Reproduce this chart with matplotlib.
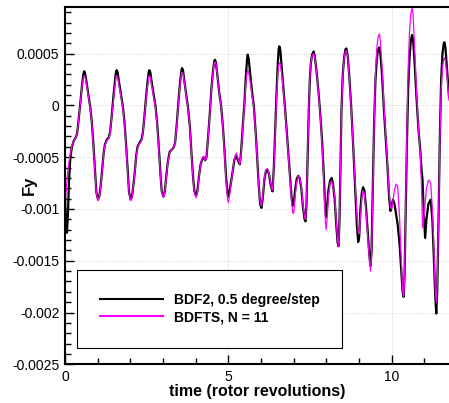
import matplotlib
matplotlib.use("Agg")
import matplotlib.pyplot as plt
from matplotlib.ticker import MultipleLocator, FixedLocator, FixedFormatter

plt.rcParams['font.family'] = ['Liberation Sans', 'DejaVu Sans']
plt.rcParams['axes.unicode_minus'] = False

# time (rotor revolutions), shared by both runs
t_rev = [
    0.00, 0.03, 0.06, 0.09, 0.12, 0.16, 0.21, 0.27, 0.33, 0.37, 0.42, 0.47,
    0.52, 0.56, 0.59, 0.62, 0.67, 0.72, 0.77, 0.82, 0.87, 0.92, 0.96, 1.01,
    1.05, 1.09, 1.13, 1.18, 1.22, 1.28, 1.34, 1.38, 1.43, 1.48, 1.53, 1.56,
    1.58, 1.61, 1.66, 1.72, 1.77, 1.82, 1.87, 1.92, 1.96, 2.01,
    2.05, 2.09, 2.13, 2.18, 2.22, 2.28, 2.34, 2.38, 2.43, 2.48, 2.53, 2.56,
    2.58, 2.61, 2.66, 2.72, 2.77, 2.82, 2.87, 2.92, 2.96, 3.01,
    3.05, 3.09, 3.14, 3.20, 3.26, 3.32, 3.37, 3.42, 3.47, 3.52, 3.56, 3.58,
    3.61, 3.66, 3.71, 3.76, 3.82, 3.87, 3.92, 3.96, 4.01,
    4.05, 4.10, 4.15, 4.20, 4.24, 4.29, 4.33, 4.38, 4.43, 4.48, 4.53, 4.57,
    4.59, 4.62, 4.67, 4.72, 4.78, 4.83, 4.88, 4.93, 4.97, 5.00,
    5.04, 5.09, 5.13, 5.18, 5.24, 5.30, 5.35, 5.39, 5.44, 5.49, 5.53, 5.57,
    5.59, 5.62, 5.67, 5.72, 5.78, 5.83, 5.88, 5.93, 5.97, 6.01,
    6.05, 6.10, 6.15, 6.19, 6.24, 6.30, 6.35, 6.39, 6.43, 6.47, 6.51, 6.54,
    6.56, 6.59, 6.64, 6.70, 6.76, 6.82, 6.88, 6.93, 6.97, 7.00,
    7.04, 7.09, 7.14, 7.18, 7.23, 7.28, 7.33, 7.36, 7.39, 7.43, 7.46, 7.49,
    7.52, 7.56, 7.61, 7.64, 7.70, 7.76, 7.82, 7.87, 7.92, 7.96, 7.99,
    8.02, 8.06, 8.11, 8.16, 8.20, 8.25, 8.30, 8.34, 8.37, 8.40, 8.43, 8.46,
    8.50, 8.54, 8.58, 8.61, 8.65, 8.70, 8.76, 8.82, 8.88, 8.93, 8.97, 9.00,
    9.04, 9.08, 9.12, 9.16, 9.21, 9.26, 9.31, 9.35, 9.38, 9.42, 9.46, 9.50,
    9.54, 9.58, 9.62, 9.65, 9.70, 9.76, 9.82, 9.87, 9.92, 9.96,
    10.00, 10.04, 10.08, 10.13, 10.18, 10.24, 10.29, 10.33, 10.36, 10.39,
    10.42, 10.46, 10.50, 10.54, 10.58, 10.62, 10.65, 10.70, 10.76, 10.82,
    10.87, 10.91, 10.94, 10.98, 11.02,
    11.06, 11.12, 11.19, 11.24, 11.29, 11.33, 11.36, 11.39, 11.43, 11.47,
    11.51, 11.55, 11.59, 11.61, 11.64, 11.69, 11.75,
]

# BDF2, 0.5 degree/step
fy_bdf2 = [
    -0.00088, -0.00115, -0.00123, -0.00105, -0.00075, -0.00052, -0.00040, -0.00034,
    -0.00031, -0.00027, -0.00013, 0.00003, 0.00019, 0.00030, 0.00033, 0.00030,
    0.00020, 0.00009, -0.00001, -0.00016, -0.00038, -0.00064, -0.00084, -0.00091,
    -0.00088, -0.00078, -0.00065, -0.00047, -0.00038, -0.00033, -0.00031, -0.00026,
    -0.00010, 0.00008, 0.00024, 0.00032, 0.00034, 0.00032, 0.00021, 0.00009,
    -0.00001, -0.00016, -0.00038, -0.00064, -0.00084, -0.00091,
    -0.00088, -0.00078, -0.00066, -0.00048, -0.00040, -0.00036, -0.00033, -0.00027,
    -0.00011, 0.00008, 0.00024, 0.00032, 0.00034, 0.00032, 0.00021, 0.00009,
    -0.00001, -0.00017, -0.00040, -0.00066, -0.00083, -0.00088,
    -0.00084, -0.00072, -0.00056, -0.00045, -0.00043, -0.00041, -0.00036, -0.00018,
    0.00003, 0.00022, 0.00033, 0.00036, 0.00034, 0.00022, 0.00010, -0.00001,
    -0.00020, -0.00046, -0.00070, -0.00083, -0.00087,
    -0.00083, -0.00068, -0.00057, -0.00052, -0.00050, -0.00053, -0.00050, -0.00030,
    -0.00008, 0.00016, 0.00034, 0.00043, 0.00044, 0.00041, 0.00027, 0.00012,
    -0.00001, -0.00020, -0.00043, -0.00070, -0.00084, -0.00088,
    -0.00082, -0.00072, -0.00064, -0.00053, -0.00048, -0.00054, -0.00057, -0.00044,
    -0.00020, 0.00002, 0.00026, 0.00044, 0.00049, 0.00045, 0.00030, 0.00014,
    -0.00001, -0.00024, -0.00050, -0.00078, -0.00095, -0.00099,
    -0.00090, -0.00072, -0.00063, -0.00062, -0.00066, -0.00078, -0.00083, -0.00060,
    -0.00025, 0.00010, 0.00040, 0.00055, 0.00057, 0.00053, 0.00034, 0.00010,
    -0.00014, -0.00040, -0.00066, -0.00088, -0.00097, -0.00095,
    -0.00082, -0.00071, -0.00068, -0.00070, -0.00080, -0.00098, -0.00110, -0.00112,
    -0.00095, -0.00045, -0.00004, 0.00024, 0.00040, 0.00049, 0.00052, 0.00048,
    0.00032, 0.00012, -0.00012, -0.00036, -0.00068, -0.00097, -0.00108,
    -0.00098, -0.00082, -0.00073, -0.00070, -0.00076, -0.00090, -0.00115, -0.00132,
    -0.00136, -0.00110, -0.00058, -0.00004, 0.00030, 0.00046, 0.00054, 0.00055,
    0.00048, 0.00028, -0.00003, -0.00040, -0.00082, -0.00115, -0.00132, -0.00128,
    -0.00100, -0.00085, -0.00079, -0.00082, -0.00098, -0.00120, -0.00143, -0.00155,
    -0.00140, -0.00080, -0.00015, 0.00025, 0.00044, 0.00054, 0.00056, 0.00050,
    0.00030, -0.00005, -0.00035, -0.00060, -0.00090, -0.00102,
    -0.00095, -0.00091, -0.00095, -0.00105, -0.00115, -0.00135, -0.00160, -0.00180,
    -0.00185, -0.00165, -0.00110, -0.00040, 0.00015, 0.00045, 0.00062, 0.00068,
    0.00064, 0.00040, 0.00005, -0.00025, -0.00043, -0.00062, -0.00072, -0.00105,
    -0.00128,
    -0.00110, -0.00095, -0.00091, -0.00110, -0.00150, -0.00185, -0.00201, -0.00180,
    -0.00110, -0.00030, 0.00025, 0.00050, 0.00060, 0.00061, 0.00056, 0.00035,
    0.00008,
]

# BDFTS, N = 11
fy_bdfts = [
    -0.00100, -0.00085, -0.00072, -0.00062, -0.00055, -0.00047, -0.00039, -0.00034,
    -0.00031, -0.00027, -0.00013, 0.00003, 0.00018, 0.00027, 0.00029, 0.00027,
    0.00018, 0.00008, -0.00002, -0.00017, -0.00040, -0.00066, -0.00085, -0.00092,
    -0.00089, -0.00079, -0.00066, -0.00048, -0.00039, -0.00034, -0.00032, -0.00027,
    -0.00011, 0.00006, 0.00020, 0.00027, 0.00029, 0.00027, 0.00018, 0.00007,
    -0.00003, -0.00018, -0.00040, -0.00066, -0.00085, -0.00092,
    -0.00089, -0.00079, -0.00067, -0.00049, -0.00041, -0.00037, -0.00034, -0.00028,
    -0.00012, 0.00006, 0.00020, 0.00027, 0.00029, 0.00027, 0.00018, 0.00007,
    -0.00003, -0.00019, -0.00042, -0.00068, -0.00084, -0.00089,
    -0.00085, -0.00073, -0.00057, -0.00046, -0.00043, -0.00041, -0.00036, -0.00019,
    0.00002, 0.00020, 0.00030, 0.00032, 0.00031, 0.00021, 0.00009, -0.00002,
    -0.00021, -0.00047, -0.00071, -0.00085, -0.00089,
    -0.00085, -0.00069, -0.00057, -0.00051, -0.00049, -0.00053, -0.00051, -0.00031,
    -0.00009, 0.00015, 0.00033, 0.00041, 0.00042, 0.00040, 0.00027, 0.00012,
    -0.00001, -0.00021, -0.00046, -0.00074, -0.00090, -0.00094,
    -0.00086, -0.00074, -0.00064, -0.00052, -0.00046, -0.00052, -0.00057, -0.00046,
    -0.00022, 0.00000, 0.00020, 0.00031, 0.00034, 0.00032, 0.00022, 0.00010,
    -0.00003, -0.00026, -0.00052, -0.00078, -0.00093, -0.00097,
    -0.00088, -0.00070, -0.00062, -0.00061, -0.00065, -0.00077, -0.00082, -0.00062,
    -0.00028, 0.00005, 0.00030, 0.00039, 0.00041, 0.00040, 0.00028, 0.00007,
    -0.00016, -0.00042, -0.00069, -0.00092, -0.00104, -0.00104,
    -0.00088, -0.00074, -0.00068, -0.00069, -0.00078, -0.00096, -0.00108, -0.00110,
    -0.00093, -0.00043, -0.00002, 0.00025, 0.00040, 0.00048, 0.00050, 0.00047,
    0.00032, 0.00011, -0.00014, -0.00040, -0.00075, -0.00108, -0.00120,
    -0.00110, -0.00088, -0.00075, -0.00073, -0.00080, -0.00086, -0.00112, -0.00130,
    -0.00136, -0.00112, -0.00060, -0.00006, 0.00028, 0.00045, 0.00052, 0.00053,
    0.00047, 0.00027, -0.00004, -0.00040, -0.00078, -0.00105, -0.00122, -0.00124,
    -0.00108, -0.00090, -0.00082, -0.00086, -0.00102, -0.00125, -0.00148, -0.00160,
    -0.00145, -0.00085, -0.00015, 0.00030, 0.00055, 0.00066, 0.00069, 0.00062,
    0.00038, 0.00000, -0.00032, -0.00058, -0.00085, -0.00098,
    -0.00100, -0.00092, -0.00082, -0.00076, -0.00078, -0.00110, -0.00150, -0.00178,
    -0.00185, -0.00168, -0.00110, -0.00030, 0.00035, 0.00070, 0.00088, 0.00094,
    0.00088, 0.00055, 0.00010, -0.00025, -0.00045, -0.00080, -0.00118, -0.00110,
    -0.00095,
    -0.00080, -0.00072, -0.00075, -0.00100, -0.00140, -0.00178, -0.00190, -0.00172,
    -0.00110, -0.00035, 0.00015, 0.00036, 0.00045, 0.00046, 0.00043, 0.00028,
    0.00005,
]

y_ticks = [0.0005, 0, -0.0005, -0.001, -0.0015, -0.002, -0.0025]
y_labels = ["0.0005", "0", "-0.0005", "-0.001", "-0.0015", "-0.002", "-0.0025"]
x_ticks = [0, 5, 10]
x_labels = ["0", "5", "10"]

fig = plt.figure(figsize=(4.49, 4.03), dpi=100)
ax = fig.add_axes([65/449, 1 - 364.3/403, 384/449, 357.3/403])

ax.plot(t_rev, fy_bdf2, color='black', lw=1.6, label='BDF2, 0.5 degree/step')
ax.plot(t_rev, fy_bdfts, color='magenta', lw=0.9, label='BDFTS, N = 11')

ax.set_xlim(0, 11.75)
ax.set_ylim(-0.0025, 0.00095)

ax.yaxis.set_major_locator(FixedLocator(y_ticks))
ax.yaxis.set_major_formatter(FixedFormatter(y_labels))
ax.yaxis.set_minor_locator(MultipleLocator(0.0001))
ax.xaxis.set_major_locator(FixedLocator(x_ticks))
ax.xaxis.set_major_formatter(FixedFormatter(x_labels))
ax.xaxis.set_minor_locator(MultipleLocator(1))

ax.tick_params(which='both', direction='in', top=False, right=False, labelsize=10, width=1)
ax.tick_params(which='major', length=6.5)
ax.tick_params(which='minor', length=4)
ax.tick_params(axis='x', pad=4)
ax.tick_params(axis='y', pad=4)

ax.grid(True, which='major', ls=':', color='#c8c8c8', lw=0.6)

for s in ['left', 'bottom', 'top']:
    ax.spines[s].set_linewidth(1.5)
ax.spines['right'].set_visible(False)

ax.set_xlabel('time (rotor revolutions)', fontsize=11.5, fontweight='bold', labelpad=0)
ax.set_ylabel('Fy', fontsize=12, fontweight='bold')
ax.yaxis.set_label_coords(-0.074, 0.5)

leg = ax.legend(loc='lower left', bbox_to_anchor=(0.0305, 0.0465, 0.690, 0.222),
                mode='expand', borderaxespad=0, borderpad=1.7, labelspacing=0.2,
                handlelength=4.5, handletextpad=0.8, fancybox=False, framealpha=1,
                edgecolor='black', prop={'size': 10, 'weight': 'bold'})
leg.get_frame().set_linewidth(0.8)
for ln in leg.get_lines():
    ln.set_linewidth(1.5)

fig.savefig('out.png', dpi=100)
